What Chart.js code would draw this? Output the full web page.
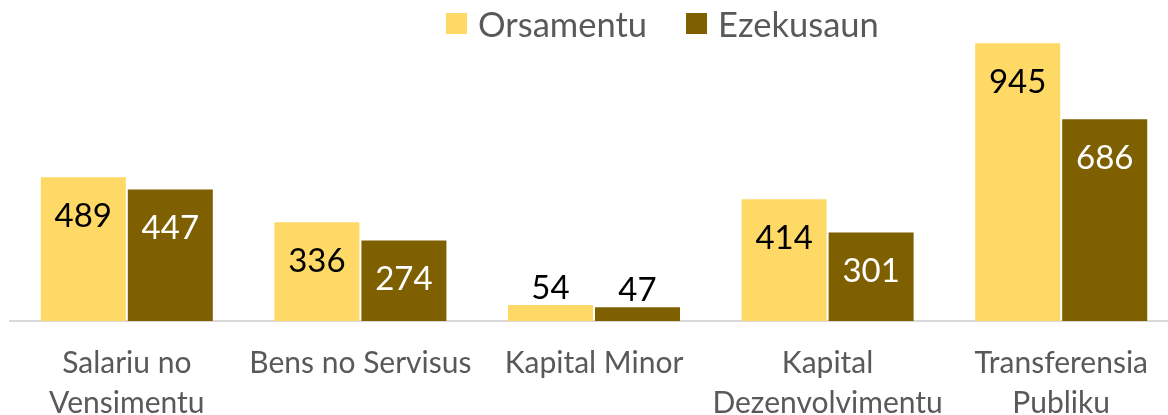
<!doctype html>
<html lang="en">
<head>
<meta charset="utf-8">
<title>Orsamentu no Ezekusaun</title>
<script src="https://cdn.jsdelivr.net/npm/chart.js@4.4.1/dist/chart.umd.min.js"></script>
<style>
  html,body{margin:0;padding:0;background:#fff;overflow:hidden}
  .wrap{position:relative;width:1178px;height:415px}
  .legend{position:absolute;top:3px;left:446px;display:flex;align-items:center;font:34.5px Lato, sans-serif;color:#595959}
  .legend span.box{display:inline-block;width:21px;height:21px;margin-right:11px}
  .legend .item{display:flex;align-items:center;margin-right:39px}
</style>
</head>
<body>
<div class="wrap">
  <canvas id="chart" width="1178" height="415"></canvas>
  <div class="legend">
    <div class="item"><span class="box" style="background:#FFD966"></span>Orsamentu</div>
    <div class="item"><span class="box" style="background:#7F6000"></span>Ezekusaun</div>
  </div>
</div>
<script>
const categories = [
  ['Salariu no', 'Vensimentu'],
  'Bens no Servisus',
  'Kapital Minor',
  ['Kapital', 'Dezenvolvimentu'],
  ['Transferensia', 'Publiku']
];
const orsamentu = [489, 336, 54, 414, 945];
const ezekusaun = [447, 274, 47, 301, 686];

const colors = { orsamentu: '#FFD966', ezekusaun: '#7F6000' };
const labelColors = ['#000000', '#ffffff'];

// value labels: inside the top of tall bars, above short ones
const barLabels = {
  id: 'barLabels',
  afterDatasetsDraw(chart){
    const ctx = chart.ctx;
    ctx.save();
    ctx.font = '33px Lato, sans-serif';
    ctx.textAlign = 'center';
    ctx.textBaseline = 'middle';
    chart.data.datasets.forEach((ds, di) => {
      chart.getDatasetMeta(di).data.forEach((bar, i) => {
        const v = ds.data[i];
        const h = bar.base - bar.y;
        if (h > 70) {
          ctx.fillStyle = labelColors[di];
          ctx.fillText(String(v), bar.x, bar.y + 39);
        } else {
          ctx.fillStyle = '#000000';
          ctx.fillText(String(v), bar.x, bar.y - 17);
        }
      });
    });
    ctx.restore();
  }
};

new Chart(document.getElementById('chart').getContext('2d'), {
  type: 'bar',
  data: {
    labels: categories,
    datasets: [
      { label: 'Orsamentu', data: orsamentu, backgroundColor: colors.orsamentu },
      { label: 'Ezekusaun', data: ezekusaun, backgroundColor: colors.ezekusaun }
    ]
  },
  options: {
    responsive: false,
    animation: false,
    categoryPercentage: 0.745,
    barPercentage: 0.977,
    layout: { padding: { left: 10, right: 0, top: 27, bottom: 0 } },
    plugins: { legend: { display: false }, tooltip: { enabled: false } },
    scales: {
      x: {
        grid: { display: false },
        border: { display: true, color: '#D9D9D9', width: 2 },
        ticks: { color: '#595959', font: { family: 'Lato', size: 30, lineHeight: 1.33 }, padding: 14, maxRotation: 0, autoSkip: false },
        afterFit(scale){ scale.height = 94; }
      },
      y: { display: false, min: 0, max: 1000 }
    }
  },
  plugins: [barLabels]
});
</script>
</body></html>
